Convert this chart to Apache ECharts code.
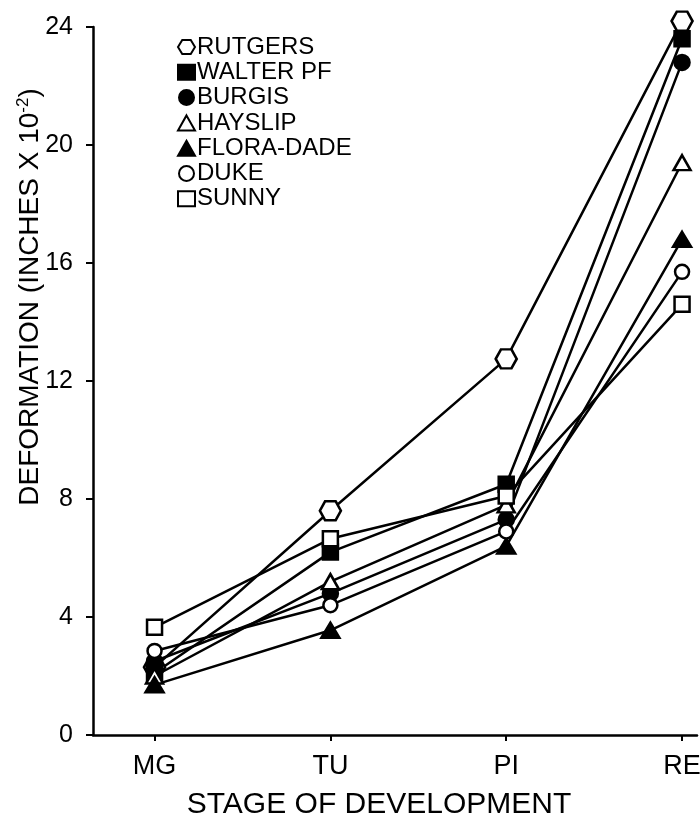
<!DOCTYPE html>
<html lang="en">
<head>
	<meta charset="UTF-8">
	<script src="https://cdn.jsdelivr.net/npm/echarts@6/dist/echarts.min.js"></script>
	<title>Deformation by stage</title>
	<style>body{margin:0;background:#fff;}</style>
</head>
<body>
<div id="chart" style="width:700px;height:818px;"></div>
<script type="text/javascript">
	// stages along the x axis
	var stages = ['MG', 'TU', 'PI', 'RE'];
	var yTicks = [0, 4, 8, 12, 16, 20, 24];

	// deformation values (inches x 10^-2), one array per variety
	var rutgers   = [2.3, 7.6, 12.75, 24.2];
	var walterPF  = [2.1, 6.2, 8.5, 23.6];
	var burgis    = [2.5, 4.8, 7.3, 22.8];
	var hayslip   = [2.0, 5.2, 7.8, 19.4];
	var floraDade = [1.7, 3.55, 6.4, 16.8];
	var duke      = [2.85, 4.4, 6.9, 15.7];
	var sunny     = [3.65, 6.65, 8.1, 14.6];

	var hexagon = 'path://M0,5 L3,0 L9,0 L12,5 L9,10 L3,10 Z';
	var font = 'Liberation Sans, Arial, sans-serif';

	function pts(arr) {
		return arr.map(function (v, i) { return [i, v]; });
	}
	function mk(name, arr, symbol, size, filled) {
		return {
			name: name,
			type: 'line',
			data: pts(arr),
			symbol: symbol,
			symbolSize: size,
			showAllSymbol: true,
			clip: false,
			lineStyle: { color: '#000', width: 2.5 },
			itemStyle: {
				color: filled ? '#000' : '#fff',
				borderColor: '#000',
				borderWidth: 2.5
			},
			emphasis: { disabled: true }
		};
	}

	var series = [
		mk('RUTGERS', rutgers, hexagon, [21, 19], false),
		mk('WALTER PF', walterPF, 'rect', 15, true),
		mk('BURGIS', burgis, 'circle', 15, true),
		mk('HAYSLIP', hayslip, 'triangle', [17, 15], false),
		mk('FLORA-DADE', floraDade, 'triangle', [18, 15], true),
		mk('DUKE', duke, 'circle', 14, false),
		mk('SUNNY', sunny, 'rect', 15, false)
	];

	var chart = echarts.init(document.getElementById('chart'));
	chart.setOption({
		animation: false,
		backgroundColor: '#fff',
		grid: { left: 93, right: 3, top: 27, bottom: 83, outerBoundsMode: 'none', containLabel: false },
		legend: {
			orient: 'vertical',
			left: 172,
			top: 30,
			itemWidth: 17,
			itemHeight: 15,
			itemGap: 1.3,
			selectedMode: false,
			textStyle: { fontFamily: font, fontSize: 24, color: '#000', padding: [0, 0, 0, -3] },
			data: series.map(function (s) { return { name: s.name, icon: s.symbol }; })
		},
		xAxis: {
			type: 'value',
			min: -0.35,
			max: 3.085,
			name: 'STAGE OF DEVELOPMENT',
			nameLocation: 'middle',
			nameGap: 55,
			nameTextStyle: { fontFamily: font, fontSize: 30, color: '#000', padding: [0, 32, 0, 0] },
			axisLine: { lineStyle: { color: '#000', width: 2.5 } },
			axisTick: { show: true, customValues: [0, 1, 2, 3], length: 6, lineStyle: { color: '#000', width: 2 } },
			axisLabel: {
				customValues: [0, 1, 2, 3],
				formatter: function (v) { return stages[Math.round(v)]; },
				fontFamily: font, fontSize: 27, color: '#000', margin: 18
			},
			splitLine: { show: false }
		},
		yAxis: {
			type: 'value',
			min: 0,
			max: 24,
			interval: 4,
			axisLine: { show: true, onZero: false, lineStyle: { color: '#000', width: 2.5 } },
			axisTick: { show: true, length: 7, lineStyle: { color: '#000', width: 2 } },
			axisLabel: {
				formatter: function (v) { return yTicks.indexOf(v) >= 0 ? String(v) : ''; },
				fontFamily: font, fontSize: 25, color: '#000', margin: 20
			},
			splitLine: { show: false }
		},
		graphic: [{
			type: 'text',
			x: 30,
			y: 297,
			rotation: Math.PI / 2,
			style: {
				text: '{a|DEFORMATION (INCHES X 10}{b|-2}{a|)}',
				align: 'center',
				verticalAlign: 'middle',
				rich: {
					a: { fontFamily: font, fontSize: 28, fill: '#000' },
					b: { fontFamily: font, fontSize: 17, fill: '#000', verticalAlign: 'top', padding: [0, 0, 13, 0] }
				}
			}
		}],
		series: series
	});
</script>
</body>
</html>
